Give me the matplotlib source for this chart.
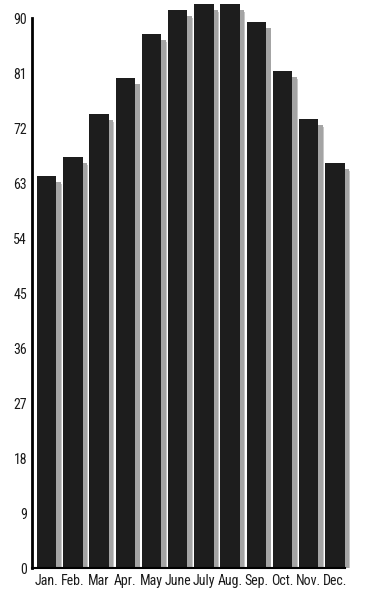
import numpy as np
import matplotlib.pyplot as plt

months = ["Jan.", "Feb.", "Mar", "Apr.", "May", "June", "July", "Aug.", "Sep.", "Oct.", "Nov.", "Dec."]
values = [64.2, 67.3, 74.3, 80.2, 87.4, 91.3, 92.3, 92.3, 89.4, 81.3, 73.5, 66.3]
yticks = [0, 9, 18, 27, 36, 45, 54, 63, 72, 81, 90]

plt.rcParams['font.family'] = ['Roboto Condensed', 'Liberation Sans Narrow', 'DejaVu Sans']
plt.rcParams['font.stretch'] = 'condensed'

fig = plt.figure(figsize=(3.67, 5.89), dpi=100)
ax = fig.add_axes([32/367, 21/589, 328/367, 568/589])

x = np.arange(len(months))
vals = np.array(values)
# drop shadow, offset right and a bit down
ax.bar(x + 0.22, vals - 1.3, width=0.72, color='#c8c8c8', zorder=1, linewidth=0)
ax.bar(x + 0.18, vals - 1.0, width=0.74, color='#a4a4a4', zorder=1, linewidth=0)
ax.bar(x, vals, width=0.74, color='#1d1d1d', zorder=2, linewidth=0)

ax.set_xlim(-0.56, 11.96)
ax.set_ylim(0, 92.95)
ax.set_yticks(yticks)
ax.set_xticks(x)
ax.set_xticklabels(months)
ax.tick_params(axis='both', length=0, labelsize=10, colors='#1a1a1a')
ax.tick_params(axis='y', pad=3.5)
ax.tick_params(axis='x', pad=4)

ax.spines['top'].set_visible(False)
ax.spines['right'].set_visible(False)
ax.spines['left'].set_linewidth(2)
ax.spines['left'].set_bounds(0, 90)
ax.spines['bottom'].set_linewidth(1.5)
ax.spines['bottom'].set_bounds(-0.56, 11.4)
ax.patch.set_visible(False)

fig.savefig("out.png", dpi=100)
